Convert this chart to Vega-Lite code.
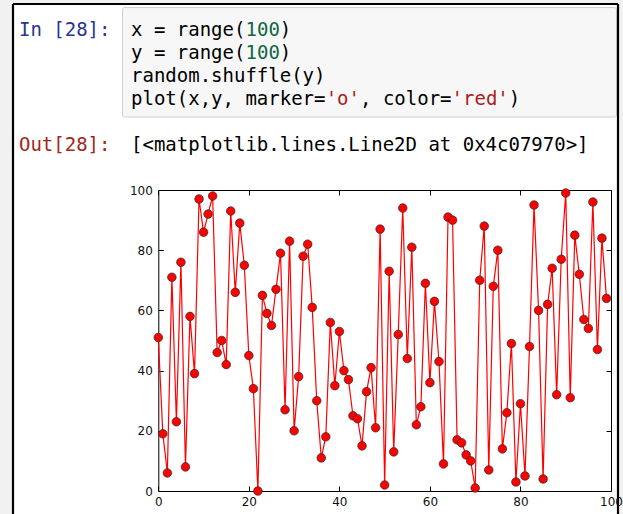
{
  "$schema": "https://vega.github.io/schema/vega-lite/v6.json",
  "width": 605,
  "height": 510,
  "autosize": {"type": "none"},
  "padding": {"left": 13, "top": 4, "right": 5, "bottom": 0},
  "background": "#f1f1f1",
  "config": {
    "view": {"fill": "white", "stroke": null}
  },
  "datasets": {
    "pts": [
      {"x":0,"y":51},{"x":1,"y":19},{"x":2,"y":6},{"x":3,"y":71},{"x":4,"y":23},{"x":5,"y":76},{"x":6,"y":8},{"x":7,"y":58},{"x":8,"y":39},{"x":9,"y":97},
      {"x":10,"y":86},{"x":11,"y":92},{"x":12,"y":98},{"x":13,"y":46},{"x":14,"y":50},{"x":15,"y":42},{"x":16,"y":93},{"x":17,"y":66},{"x":18,"y":89},{"x":19,"y":75},
      {"x":20,"y":45},{"x":21,"y":34},{"x":22,"y":0},{"x":23,"y":65},{"x":24,"y":59},{"x":25,"y":55},{"x":26,"y":67},{"x":27,"y":79},{"x":28,"y":27},{"x":29,"y":83},
      {"x":30,"y":20},{"x":31,"y":38},{"x":32,"y":78},{"x":33,"y":82},{"x":34,"y":61},{"x":35,"y":30},{"x":36,"y":11},{"x":37,"y":18},{"x":38,"y":56},{"x":39,"y":35},
      {"x":40,"y":53},{"x":41,"y":40},{"x":42,"y":37},{"x":43,"y":25},{"x":44,"y":24},{"x":45,"y":15},{"x":46,"y":33},{"x":47,"y":41},{"x":48,"y":21},{"x":49,"y":87},
      {"x":50,"y":2},{"x":51,"y":73},{"x":52,"y":13},{"x":53,"y":52},{"x":54,"y":94},{"x":55,"y":44},{"x":56,"y":81},{"x":57,"y":22},{"x":58,"y":28},{"x":59,"y":69},
      {"x":60,"y":36},{"x":61,"y":63},{"x":62,"y":43},{"x":63,"y":9},{"x":64,"y":91},{"x":65,"y":90},{"x":66,"y":17},{"x":67,"y":16},{"x":68,"y":12},{"x":69,"y":10},
      {"x":70,"y":1},{"x":71,"y":70},{"x":72,"y":88},{"x":73,"y":7},{"x":74,"y":68},{"x":75,"y":80},{"x":76,"y":14},{"x":77,"y":26},{"x":78,"y":49},{"x":79,"y":3},
      {"x":80,"y":29},{"x":81,"y":5},{"x":82,"y":48},{"x":83,"y":95},{"x":84,"y":60},{"x":85,"y":4},{"x":86,"y":62},{"x":87,"y":74},{"x":88,"y":32},{"x":89,"y":77},
      {"x":90,"y":99},{"x":91,"y":31},{"x":92,"y":85},{"x":93,"y":72},{"x":94,"y":57},{"x":95,"y":54},{"x":96,"y":96},{"x":97,"y":47},{"x":98,"y":84},{"x":99,"y":64}
    ],
    "cell": [
      {"part": "prompt", "kind": "in", "line": 0, "col": 0, "text": "In [28]:"},
      {"part": "code", "kind": "plain", "line": 0, "col": 0, "text": "x = range("},
      {"part": "code", "kind": "number", "line": 0, "col": 10, "text": "100"},
      {"part": "code", "kind": "plain", "line": 0, "col": 13, "text": ")"},
      {"part": "code", "kind": "plain", "line": 1, "col": 0, "text": "y = range("},
      {"part": "code", "kind": "number", "line": 1, "col": 10, "text": "100"},
      {"part": "code", "kind": "plain", "line": 1, "col": 13, "text": ")"},
      {"part": "code", "kind": "plain", "line": 2, "col": 0, "text": "random.shuffle(y)"},
      {"part": "code", "kind": "plain", "line": 3, "col": 0, "text": "plot(x,y, marker="},
      {"part": "code", "kind": "string", "line": 3, "col": 17, "text": "'o'"},
      {"part": "code", "kind": "plain", "line": 3, "col": 20, "text": ", color="},
      {"part": "code", "kind": "string", "line": 3, "col": 28, "text": "'red'"},
      {"part": "code", "kind": "plain", "line": 3, "col": 33, "text": ")"},
      {"part": "prompt", "kind": "out", "line": 5, "col": 0, "text": "Out[28]:"},
      {"part": "code", "kind": "plain", "line": 5, "col": 0, "text": "[<matplotlib.lines.Line2D at 0x4c07970>]"}
    ]
  },
  "layer": [
    {
      "data": {"name": "cell"},
      "layer": [
        {
          "transform": [{"filter": "datum.line === 0 && datum.part === 'prompt'"}],
          "mark": {"type": "rect", "fill": "#f7f7f7", "stroke": "#cfcfcf", "strokeWidth": 1, "cornerRadius": 2},
          "encoding": {
            "x": {"datum": -0.74, "type": "quantitative", "scale": {"domain": [0, 40], "range": [118, 576]}, "axis": null},
            "x2": {"datum": 42.4},
            "y": {"datum": -0.95, "type": "quantitative", "scale": {"domain": [0, 5], "range": [25.5, 141]}, "axis": null},
            "y2": {"datum": 3.79}
          }
        },
        {
          "transform": [{"filter": "datum.part === 'prompt'"}],
          "mark": {"type": "text", "align": "right", "baseline": "middle", "font": "DejaVu Sans Mono", "fontSize": 19},
          "encoding": {
            "x": {"datum": -1.79, "type": "quantitative", "scale": {"domain": [0, 40], "range": [118, 576]}, "axis": null},
            "y": {"field": "line", "type": "quantitative", "scale": {"domain": [0, 5], "range": [25.5, 141]}, "axis": null},
            "text": {"field": "text"},
            "color": {"field": "kind", "type": "nominal", "scale": {"domain": ["in", "out", "plain", "number", "string"], "range": ["#2a3590", "#a0281c", "#000000", "#116644", "#b01a1a"]}, "legend": null}
          }
        },
        {
          "transform": [{"filter": "datum.part === 'code'"}],
          "mark": {"type": "text", "align": "left", "baseline": "middle", "font": "DejaVu Sans Mono", "fontSize": 19},
          "encoding": {
            "x": {"field": "col", "type": "quantitative", "scale": {"domain": [0, 40], "range": [118, 576]}, "axis": null},
            "y": {"field": "line", "type": "quantitative", "scale": {"domain": [0, 5], "range": [25.5, 141]}, "axis": null},
            "text": {"field": "text"},
            "color": {"field": "kind", "type": "nominal", "scale": {"domain": ["in", "out", "plain", "number", "string"], "range": ["#2a3590", "#a0281c", "#000000", "#116644", "#b01a1a"]}, "legend": null}
          }
        }
      ]
    },
    {
      "data": {"name": "pts"},
      "layer": [
        {
          "mark": {"type": "line", "color": "#ff0000", "strokeWidth": 1.2},
          "encoding": {
            "x": {"field": "x", "type": "quantitative",
              "scale": {"domain": [0, 100], "range": [145.3, 598], "nice": false, "zero": false},
              "axis": {"orient": "bottom", "offset": -23, "values": [0, 20, 40, 60, 80, 100], "format": "d", "grid": false,
                "domain": true, "domainColor": "#000", "domainWidth": 1, "ticks": true, "tickColor": "#000", "tickSize": -5,
                "labelFont": "DejaVu Sans", "labelFontSize": 12, "labelColor": "#111", "labelPadding": 10, "labelFlush": false, "title": null}},
            "y": {"field": "y", "type": "quantitative",
              "scale": {"domain": [0, 100], "range": [487, 186], "nice": false, "zero": false},
              "axis": {"orient": "left", "offset": -145.3, "values": [0, 20, 40, 60, 80, 100], "format": "d", "grid": false,
                "domain": true, "domainColor": "#000", "domainWidth": 1, "ticks": true, "tickColor": "#000", "tickSize": -5,
                "labelFont": "DejaVu Sans", "labelFontSize": 12, "labelColor": "#111", "labelPadding": 11, "labelFlush": false, "title": null}}
          }
        },
        {
          "mark": {"type": "point", "filled": true, "shape": "circle", "size": 74, "fill": "#ff0000", "stroke": "#2a2a2a", "strokeWidth": 0.7, "opacity": 1},
          "encoding": {
            "x": {"field": "x", "type": "quantitative",
              "scale": {"domain": [0, 100], "range": [145.3, 598], "nice": false, "zero": false},
              "axis": {"orient": "top", "offset": -186, "values": [0, 20, 40, 60, 80, 100], "grid": false, "labels": false,
                "domain": true, "domainColor": "#000", "domainWidth": 1, "ticks": true, "tickColor": "#000", "tickSize": -5, "title": null}},
            "y": {"field": "y", "type": "quantitative",
              "scale": {"domain": [0, 100], "range": [487, 186], "nice": false, "zero": false},
              "axis": {"orient": "right", "offset": -7, "values": [0, 20, 40, 60, 80, 100], "grid": false, "labels": false,
                "domain": true, "domainColor": "#000", "domainWidth": 1, "ticks": true, "tickColor": "#000", "tickSize": -5, "title": null}}
          }
        }
      ],
      "resolve": {"axis": {"x": "independent", "y": "independent"}}
    },
    {
      "data": {"values": [{"edge": "left"}, {"edge": "right"}]},
      "mark": {"type": "rule", "color": "#000", "strokeWidth": 2.2},
      "encoding": {
        "x": {"field": "edge", "type": "nominal", "scale": {"type": "point", "domain": ["left", "right"], "padding": 0}, "axis": null}
      }
    },
    {
      "data": {"values": [{"edge": "top"}]},
      "mark": {"type": "rule", "color": "#000", "strokeWidth": 2.2},
      "encoding": {
        "y": {"datum": 1, "type": "quantitative", "scale": {"domain": [0, 1]}, "axis": null}
      }
    }
  ],
  "resolve": {"scale": {"x": "independent", "y": "independent", "color": "independent"}}
}
